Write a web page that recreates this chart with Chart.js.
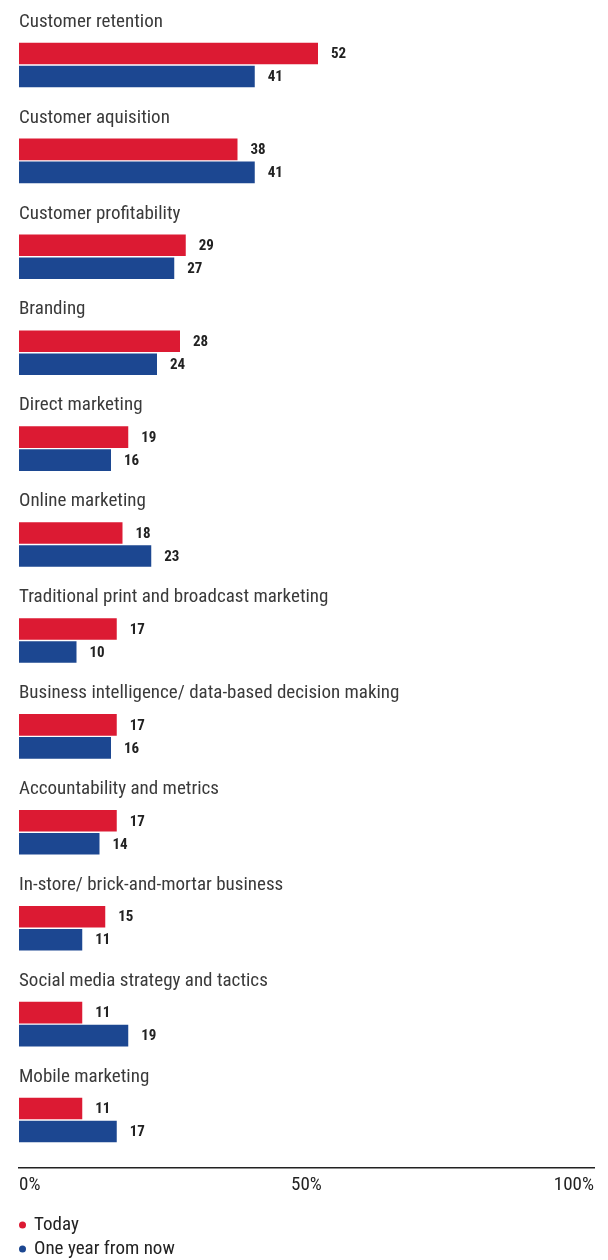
<!DOCTYPE html>
<html>
<head>
<meta charset="utf-8">
<script src="https://cdn.jsdelivr.net/npm/chart.js@4/dist/chart.umd.min.js"></script>
<style>
  html, body { margin: 0; padding: 0; background: #fff; }
  #wrap { width: 608px; height: 1260px; position: relative; }
</style>
</head>
<body>
<div id="wrap"><canvas id="chart"></canvas></div>
<script>
const categories = [
  'Customer retention',
  'Customer aquisition',
  'Customer profitability',
  'Branding',
  'Direct marketing',
  'Online marketing',
  'Traditional print and broadcast marketing',
  'Business intelligence/ data-based decision making',
  'Accountability and metrics',
  'In-store/ brick-and-mortar business',
  'Social media strategy and tactics',
  'Mobile marketing'
];
const today = [52, 38, 29, 28, 19, 18, 17, 17, 17, 15, 11, 11];
const oneYear = [41, 41, 27, 24, 16, 23, 10, 16, 14, 11, 19, 17];
const seriesNames = ['Today', 'One year from now'];
const xTicks = [0, 50, 100];

const RED = '#dc1a33';
const BLUE = '#1c4791';
const FONT = "'Roboto Condensed', 'DejaVu Sans Condensed', sans-serif";

// category names above each pair, values after each bar, legend at bottom
const decorations = {
  id: 'decorations',
  afterDatasetsDraw(chart) {
    const ctx = chart.ctx;
    const y = chart.scales.y;
    const area = chart.chartArea;
    ctx.save();
    ctx.textBaseline = 'middle';
    ctx.textAlign = 'left';
    ctx.fillStyle = '#3a3a3a';
    ctx.font = '19px ' + FONT;
    categories.forEach((c, i) => {
      ctx.fillText(c, area.left, y.getPixelForValue(i) - 43);
    });
    ctx.font = 'bold 15px ' + FONT;
    ctx.fillStyle = '#222';
    chart.data.datasets.forEach((ds, di) => {
      chart.getDatasetMeta(di).data.forEach((bar, i) => {
        ctx.fillText(ds.data[i], bar.x + 13, bar.y + 1);
      });
    });
    // legend
    ctx.font = '19px ' + FONT;
    chart.data.datasets.forEach((ds, di) => {
      const ly = area.bottom + 57 + di * 24;
      ctx.fillStyle = ds.backgroundColor;
      ctx.beginPath();
      ctx.arc(area.left + 3.5, ly, 3.5, 0, Math.PI * 2);
      ctx.fill();
      ctx.fillStyle = '#222';
      ctx.fillText(ds.label, area.left + 15, ly);
    });
    ctx.restore();
  }
};

new Chart(document.getElementById('chart'), {
  type: 'bar',
  data: {
    labels: categories,
    datasets: [{
      label: seriesNames[0],
      data: today,
      backgroundColor: RED,
      categoryPercentage: 0.48,
      barPercentage: 0.94
    }, {
      label: seriesNames[1],
      data: oneYear,
      backgroundColor: BLUE,
      categoryPercentage: 0.48,
      barPercentage: 0.94
    }]
  },
  options: {
    indexAxis: 'y',
    responsive: true,
    maintainAspectRatio: false,
    animation: false,
    layout: { padding: { left: 19, right: 14, top: 17, bottom: 0 } },
    plugins: {
      legend: { display: false },
      tooltip: { enabled: false }
    },
    scales: {
      y: { display: false },
      x: {
        min: 0,
        max: 100,
        afterBuildTicks: (scale) => { scale.ticks = xTicks.map(v => ({ value: v })); },
        afterFit: (scale) => { scale.height = 92; },
        grid: { display: false, drawTicks: false },
        border: { display: true, color: '#222', width: 1.5 },
        ticks: {
          align: 'inner',
          padding: 6,
          color: '#222',
          font: { family: FONT, size: 19 },
          callback: (v) => v + '%'
        }
      }
    }
  },
  plugins: [decorations]
});
</script>
</body>
</html>
